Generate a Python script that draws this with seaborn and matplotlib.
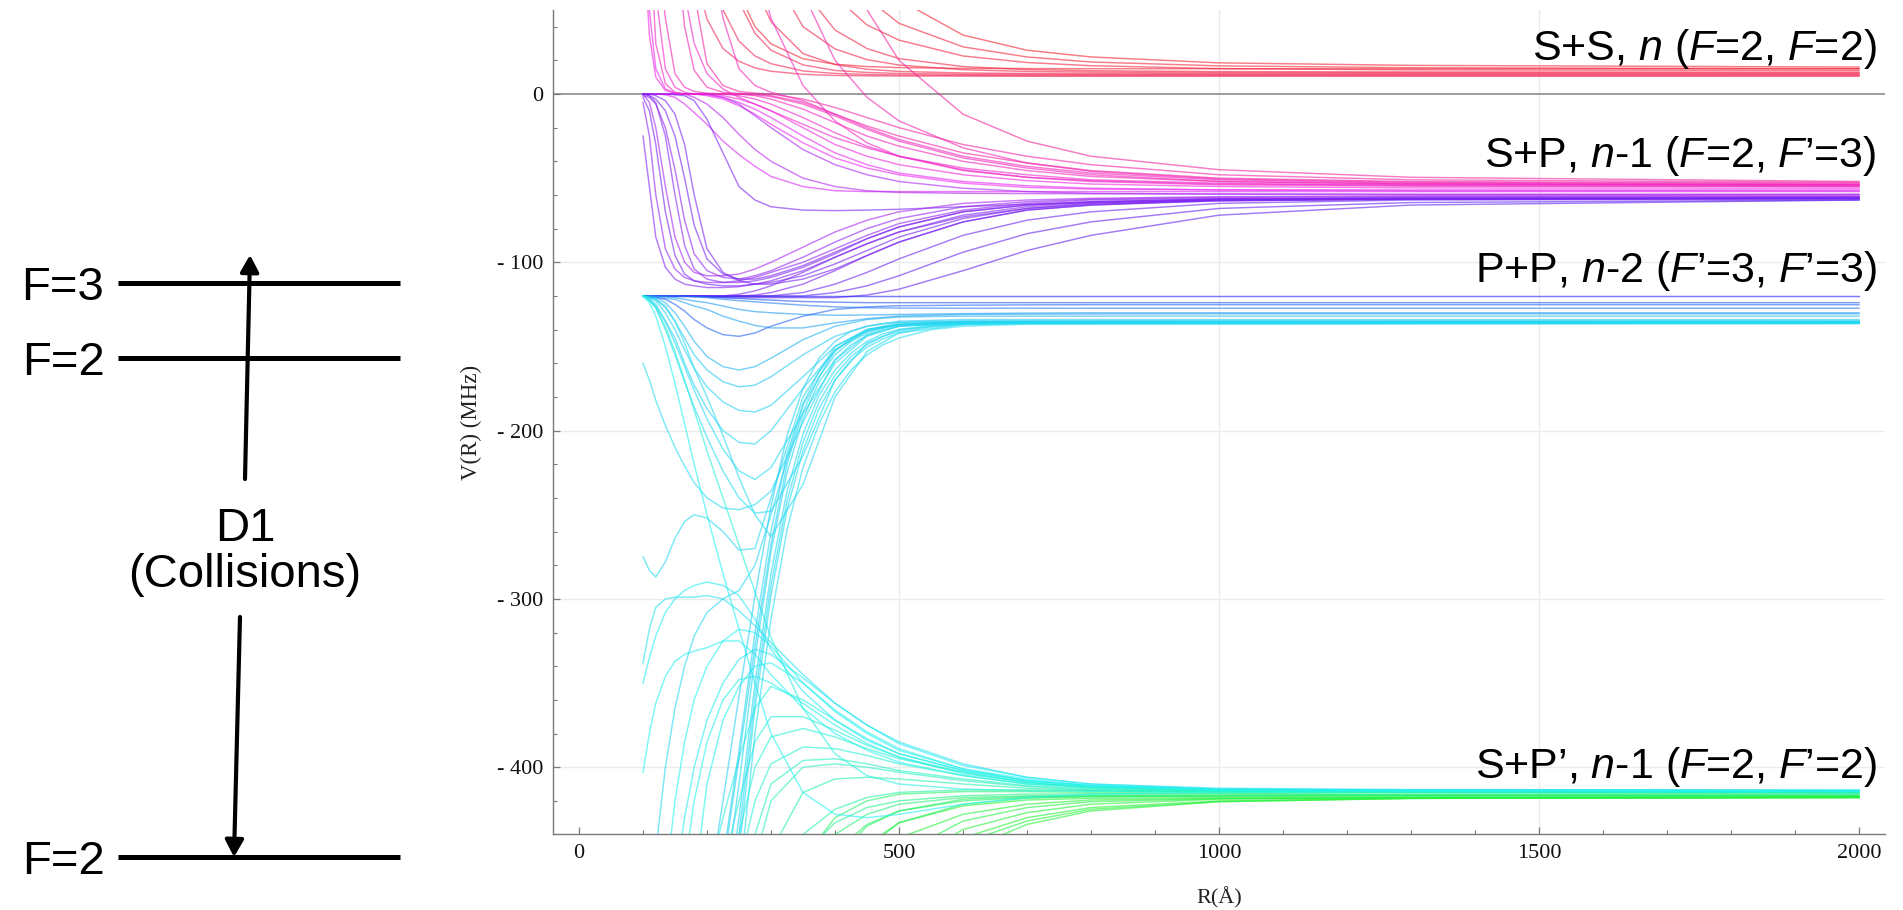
import colorsys

import matplotlib
matplotlib.use("Agg")
import matplotlib.pyplot as plt
from matplotlib.ticker import MultipleLocator
import numpy as np
import pandas as pd
import seaborn as sns

# ---------------------------------------------------------------- data
# interatomic distance grid (Angstrom) shared by most adiabatic curves
R = [100, 110, 120, 135, 150, 165, 180, 200, 225, 250, 275, 300, 350, 400,
     450, 500, 600, 700, 800, 1000, 1300, 2000]
# finer grid for the steep bundle climbing into the P+P asymptote
R_steep = [200, 225, 250, 275, 300, 325, 350, 375, 400, 425, 450, 475, 500, 550,
           600, 700, 2000]

# S+S, n asymptote (F=2, F=2): curves falling in from above
ss1 = [99] * 14 + [77, 56, 35, 26, 22, 18.5, 17, 16]
ss2 = [99] * 13 + [82, 57, 42, 28, 22, 19, 16.7, 15.6, 15]
ss3 = [99] * 12 + [88, 58, 41, 32, 22.6, 18.7, 16.8, 15.1, 14.3, 14]
ss4 = [99] * 12 + [62, 38, 27, 21, 16.3, 14.5, 13.8, 13.3, 13.1, 13]
ss5 = [99] * 11 + [73, 40, 26.8, 20.4, 17.2, 14.4, 13.4, 13, 12.7, 12.6, 12.5]
ss6 = [99] * 10 + [64, 43, 24, 17.5, 14.7, 13.4, 12.5, 12.2, 12.1, 12, 12, 12]
ss7 = [99] * 9 + [55, 36, 26, 17.3, 14, 12.8, 12.2, 11.7, 11.6, 11.5, 11.5, 11.5, 11.5]
ss8 = [99] * 7 + [89, 50, 31.4, 22.6, 18, 13.7, 12.2, 11.6, 11.3, 11.1, 11, 11, 11, 11, 11]
ss9 = [99] * 6 + [74.5, 44.5, 27, 19.4, 15.5, 13.5, 11.7, 11, 10.8, 10.7, 10.6, 10.5,
                  10.5, 10.5, 10.5, 10.5]
ss10 = [99] * 9 + [60, 40, 29.8, 20.9, 17.7, 16.3, 15.7, 15.2, 15.1, 15, 15, 15, 15]

# S+P, n-1 asymptote (F=2, F'=3): curves crossing zero from above
spt1 = [99] * 13 + [95, 50, 20, -12, -28, -37, -45, -49.5, -52]
spt2 = [99] * 12 + [60, 20, -2, -16, -32, -41, -46, -50.5, -52.5, -53.5]
spt3 = [99] * 10 + [80, 45, 5, -16, -29, -37, -45.5, -49.5, -51.5, -53.5, -54, -54.5]
spt4 = [99] * 5 + [60, 30, 12, 3, -2, -6, -10, -18, -26, -32, -37, -44, -48, -51, -53,
                   -54.5, -55]

# S+P, n-1: curves leaving the zero bundle
b1 = [0, 0, 0, -0.5, -2, -6, -11, -18, -28, -36, -43, -49, -55, -57.5, -58, -58, -58,
      -58, -58, -58, -58, -58]
b2 = [0, 0, 0, 0, -0.5, -1, -4, -15, -35, -55, -63, -67, -69, -69.3, -69, -68.5, -67,
      -65.5, -64.5, -63, -62.3, -62]
b3 = [99, 35, 10, 2, 0.5, 0, 0, 0, -1, -3, -6, -10, -20, -30, -37, -42, -48, -51.5,
      -53.5, -55, -55.8, -56]
b4 = [99, 99, 60, 15, 4, 1, 0, 0, 0, -1, -3, -6, -14, -23, -31, -37, -45, -49.5, -52,
      -54, -54.8, -55]
b5 = [99, 99, 99, 45, 12, 4, 1.5, 0.5, 0, 0, -1, -3, -9, -17, -25, -31, -40, -45.5,
      -49, -52, -53.5, -54]
b6 = [0, 0, 0, 0, 0, 0, 0, -1, -3, -7, -12, -18, -29, -38, -44, -48, -53, -55.5,
      -56.5, -57, -57, -57]
b7 = [99, 99, 99, 99, 99, 40, 14, 4, 1, 0.3, 0, -1, -5, -12, -19, -25, -35, -41,
      -45.5, -50, -52, -53]
b8 = [0, 0, 0, 0, 0, 0, 0, 0, -2, -6, -13, -20, -33, -42, -48, -52, -56, -58, -59,
      -59.5, -59.8, -60]
b9 = [0, 0, 0, 0, 0, 0, -2, -6, -14, -24, -33, -40, -50, -55, -57.5, -58.5, -59,
      -59.2, -59.3, -59.4, -59.5, -59.5]
b10 = [99, 99, 99, 99, 99, 99, 60, 18, 5, 1.5, 0.5, 0, -3, -8, -14, -20, -30, -37,
       -42, -48, -51, -52.5]
b11 = [99] * 8 + [45, 15, 5, 1, -4, -12, -20, -27, -37, -43, -47, -51, -53, -54]
b12 = [99, 50, 15, 3, 0.5, 0, 0, -0.5, -2, -5, -9, -14, -25, -35, -42, -47, -52,
       -54.5, -56, -57, -57.5, -57.5]
b13 = [99, 99, 30, 6, 1, 0, 0, 0, 0, 0, -0.5, -1.5, -6, -13, -21, -28, -38, -44, -48,
       -52, -53.5, -54]

# S+P, n-1: curves dipping towards -110 MHz before recovering
c1 = [0, -5, -20, -55, -85, -100, -106, -108, -108, -107, -104, -100, -91, -82, -75,
      -70, -65, -63, -62, -61, -60.5, -60]
c2 = [-1, -2, -6, -20, -45, -75, -95, -105, -109, -110, -108, -105, -97, -88, -80,
      -74, -67, -64, -62.5, -61.5, -61, -61]
c3 = [-5, -25, -60, -92, -104, -109, -111, -112, -112, -111, -109, -106, -100, -92,
      -84, -77, -69, -65, -63, -62, -61.5, -61]
c4 = [-25, -55, -85, -103, -110, -113, -114, -115, -115, -114.5, -113, -111, -105,
      -97, -89, -82, -72, -67, -64.5, -62.5, -62, -61.5]
c5 = [0, -1, -3, -10, -25, -50, -78, -98, -107, -110, -110, -108, -102, -94, -86,
      -79, -70, -66, -64, -62.5, -62, -62]
c6 = [0, 0, -1, -4, -12, -30, -60, -92, -106, -111, -113, -113, -110, -104, -96, -88,
      -76, -69, -66, -63, -62.5, -62]
c7 = [-2, -10, -30, -70, -96, -107, -111, -113, -114, -114, -113, -112, -108, -101,
      -93, -85, -74, -68, -65, -63, -62.3, -62]
c8 = [0, -1, -5, -25, -60, -90, -104, -110, -112, -112, -111, -109, -103, -95, -86,
      -79, -70, -66, -64, -62.5, -62, -61.5]

# S+P, n-1: curves rising out of the -120 MHz bundle
d1 = [-120] * 10 + [-119.5, -118, -113, -105, -96, -88, -76, -69, -66, -63.5, -62.5, -62]
d2 = [-120] * 12 + [-118, -113, -106, -98, -84, -75, -70, -65, -63, -62.5]
d3 = [-120] * 13 + [-118, -114, -108, -94, -83, -76, -68, -64.5, -63]
d4 = [-120] * 9 + [-119, -117, -114, -106, -97, -89, -82, -73, -68, -65.5, -63.5,
                   -62.5, -62]
d5 = [-120] * 7 + [-120.5, -121, -121, -121, -121, -121, -121, -119.5, -116, -105,
                   -93, -84, -72, -66, -63]

# P+P, n-2 asymptote (F'=3, F'=3)
e1 = [-120] * 22
e2 = [-120, -120, -120, -120, -120, -120, -120.2, -120.5, -121, -121.5, -122, -122.5,
      -123.3, -123.7, -124, -124, -124, -124, -124, -124, -124, -124]
e3 = [-120, -120, -120, -120, -120, -120.3, -120.6, -121, -122, -122.8, -123.5,
      -124.2, -125.5, -126.5, -127, -127.2, -127.3, -127.3, -127.3, -127.3, -127.3,
      -127.3]
e4 = [-120, -120, -120.3, -120.6, -121, -122, -123, -124, -126, -128, -129.3, -130,
      -131, -131.5, -131.3, -131, -130.5, -130.2, -130, -130, -130, -130]
e5 = [-120, -120.3, -120.7, -121.5, -122, -124, -126, -128, -132, -135, -137.5, -139,
      -139, -136, -133.5, -132, -131, -130.8, -130.7, -130.6, -130.6, -130.6]
e6 = [-120, -120.5, -121, -122, -125, -129, -134, -139, -143, -144, -142, -138, -132,
      -128, -126.5, -125.8, -125.5, -125.3, -125.2, -125.2, -125.2, -125.2]
e7 = [-120, -120.5, -121, -124, -130, -138, -147, -156, -162, -164, -162, -157, -146,
      -138, -134, -132.5, -132, -132, -132, -132, -132, -132]
e8 = [-120, -121, -122, -127, -135, -145, -155, -164, -171, -174, -173, -168, -155,
      -144, -138, -135, -134, -134, -134, -134, -134, -134]
e9 = [-120, -121, -123, -130, -140, -152, -163, -174, -183, -188, -189, -185, -168,
      -150, -140, -136, -135, -135, -135, -135, -135, -135]
e10 = [-120, -122, -126, -135, -145, -160, -173, -187, -200, -207, -208, -200, -175,
       -152, -141, -137, -135.5, -135.5, -135.5, -135.5, -135.5, -135.5]
e11 = [-120, -122, -125, -135, -148, -162, -176, -193, -211, -224, -229, -222, -190,
       -160, -144, -138, -136, -136, -136, -136, -136, -136]
e12 = [-120, -123, -127, -140, -155, -171, -186, -204, -224, -240, -249, -248, -215,
       -170, -148, -140, -136.5, -136, -136, -136, -136, -136]
e13 = [-120, -121, -122, -126, -135, -148, -163, -180, -203, -228, -250, -263, -232,
       -180, -153, -142, -137, -136, -136, -136, -136, -136]

# P+P, n-2: steep bundle climbing from below (values on R_steep)
f1 = [-480, -420, -358, -298, -245, -203, -175, -157, -147, -141, -138, -136.5, -135.7,
      -135.1, -134.9, -134.8, -134.8]
f2 = [-499, -455, -390, -320, -260, -214, -184, -165, -153, -145.5, -141, -138.5, -137,
      -135.8, -135.4, -135.3, -135.3]
f3 = [-499, -480, -410, -335, -272, -225, -193, -171, -158, -149, -143.5, -140, -138,
      -136.4, -135.9, -135.7, -135.7]
f4 = [-499, -499, -430, -350, -285, -236, -202, -179, -164, -154, -147, -142.5, -140,
      -137.3, -136.4, -136.1, -136]
f5 = [-499, -499, -450, -365, -298, -247, -212, -187, -170, -158, -150.5, -145.5, -142,
      -138.5, -137, -136.5, -136.3]
f6 = [-499, -499, -470, -380, -312, -259, -222, -196, -177, -164, -155, -149, -145,
      -140, -138, -136.8, -136.5]
f7 = [-499, -460, -395, -328, -268, -220, -189, -168, -155, -147, -142, -139, -137.3,
      -136, -135.6, -135.5, -135.5]
f8 = [-499, -499, -440, -358, -292, -242, -207, -183, -167, -156, -149, -144, -141,
      -137.8, -136.7, -136.2, -136.2]

# S+P', n-1 asymptote (F=2, F'=2): curves of the lower fan
g1 = [-275, -283, -287, -278, -264, -254, -250, -252, -260, -271, -270, -240, -180,
      -150, -140, -137, -136, -135.9, -135.9, -135.9, -135.9, -135.9]
g2 = [-338, -318, -305, -300, -299, -299, -299, -298, -300, -307, -316, -326, -345,
      -362, -375, -385, -398, -406, -410, -412.5, -413.3, -413.5]
g3 = [-350, -335, -322, -308, -300, -295, -292, -290, -292, -298, -312, -330, -355,
      -372, -384, -392, -402, -408, -411, -413, -413.6, -413.8]
g4 = [-403, -380, -362, -346, -337, -333, -331, -329, -325, -325, -333, -345, -365,
      -380, -390, -397, -405, -410, -411.5, -413.3, -413.8, -414]
g5 = [-160, -170, -182, -197, -210, -221, -231, -240, -246, -247, -244, -236, -195,
      -158, -143, -138, -136, -136, -136, -136, -136, -136]
g6 = [-499, -499, -450, -400, -365, -340, -322, -308, -300, -295, -280, -250, -185,
      -152, -140, -137, -136, -135.8, -135.8, -135.8, -135.8, -135.8]
g7 = [-499, -499, -499, -470, -420, -385, -360, -340, -325, -318, -320, -328, -350,
      -367, -380, -390, -401, -407, -411, -413.2, -413.8, -414]
g8 = [-499] * 5 + [-460, -420, -385, -360, -348, -346, -350, -362, -375, -386, -394,
                   -404, -409, -412, -413.6, -414, -414.2]
g9 = [-499] * 7 + [-470, -430, -395, -365, -352, -360, -372, -383, -392, -402, -408,
                   -411, -413.5, -414.1, -414.3]
g10 = [-499] * 8 + [-460, -420, -385, -370, -370, -378, -387, -394, -403, -409, -412,
                    -413.8, -414.3, -414.5]
g11 = [-499] * 9 + [-460, -420, -398, -388, -389, -393, -398, -405, -410, -412.5,
                    -414, -414.5, -414.7]
g12 = [-499] * 10 + [-455, -420, -400, -398, -400, -403, -408, -411.5, -413.5, -414.4,
                     -414.8, -415]
g13 = [-499] * 11 + [-450, -415, -407, -406, -407, -410, -412.5, -414, -414.8, -415.1,
                     -415.3]
g14 = [-499] * 6 + [-470, -410, -372, -352, -340, -338, -350, -366, -379, -389, -401,
                    -408, -411, -413.4, -413.9, -414.1]
g15 = [-499] * 9 + [-440, -400, -382, -377, -382, -389, -395, -403, -409, -412,
                    -413.9, -414.4, -414.6]
g16 = [-499] * 10 + [-440, -410, -396, -395, -398, -402, -407, -411, -413, -414.3,
                     -414.8, -415]
g17 = [-499] * 4 + [-470, -430, -400, -372, -350, -336, -330, -333, -347, -362, -375,
                    -386, -399, -406, -410, -413, -413.6, -413.8]

# S+P', n-1: green curves approaching from below
h1 = [-499] * 12 + [-455, -430, -420, -416, -414.5, -414.5, -415, -415.5, -416.5, -417]
h2 = [-499] * 13 + [-455, -435, -426, -419, -417.5, -417, -417, -417, -417]
h3 = [-499] * 13 + [-470, -446, -433, -423, -419.5, -418.5, -418, -418, -418]
h4 = [-499] * 14 + [-460, -442, -428, -422, -419.5, -418.5, -418.2, -418]
h5 = [-499] * 14 + [-490, -460, -437, -427, -422, -419, -418.2, -418]
h6 = [-499] * 15 + [-490, -450, -434, -426, -420.5, -418.5, -418]
h7 = [-499] * 11 + [-470, -440, -425, -418, -415, -413.5, -413.5, -414, -414.5, -415,
                    -415.5]
h8 = [-499] * 13 + [-480, -448, -433, -422, -418.5, -417.5, -417, -417, -417]
h9 = [-499] * 12 + [-470, -440, -428, -422, -418, -417, -416.5, -416.5, -416.5, -416.5]
h10 = [-499] * 15 + [-470, -442, -430, -424, -420, -418.5, -418]
h11 = [-499] * 12 + [-480, -450, -434, -426, -420, -418, -417.5, -417.2, -417, -417]
h12 = [-499] * 14 + [-475, -452, -432, -424, -420.5, -418.7, -418, -417.7]
h13 = [-499] * 11 + [-490, -452, -433, -424, -420, -417, -416, -415.8, -415.8, -416,
                     -416]
h14 = [-499] * 15 + [-480, -445, -432, -425, -420.5, -418.6, -417.8]

# S+P', n-1: curves descending straight out of the -120 MHz bundle
k1 = [-120, -124, -132, -150, -172, -196, -220, -250, -285, -318, -350, -380, -415,
      -428, -430, -428, -422, -418, -416, -414.8, -414.3, -414]
k2 = [-120, -122, -127, -138, -153, -170, -188, -212, -240, -268, -296, -323, -365,
      -392, -405, -410, -413, -414, -414.3, -414.5, -414.5, -414.5]

curves = dict(
    ss1=ss1, ss2=ss2, ss3=ss3, ss4=ss4, ss5=ss5, ss6=ss6, ss7=ss7, ss8=ss8, ss9=ss9,
    ss10=ss10, spt1=spt1, spt2=spt2, spt3=spt3, spt4=spt4,
    b1=b1, b2=b2, b3=b3, b4=b4, b5=b5, b6=b6, b7=b7, b8=b8, b9=b9, b10=b10,
    b11=b11, b12=b12, b13=b13,
    c1=c1, c2=c2, c3=c3, c4=c4, c5=c5, c6=c6, c7=c7, c8=c8,
    d1=d1, d2=d2, d3=d3, d4=d4, d5=d5,
    e1=e1, e2=e2, e3=e3, e4=e4, e5=e5, e6=e6, e7=e7, e8=e8, e9=e9, e10=e10, e11=e11,
    e12=e12, e13=e13,
    g1=g1, g2=g2, g3=g3, g4=g4, g5=g5, g6=g6, g7=g7, g8=g8, g9=g9, g10=g10, g11=g11,
    g12=g12, g13=g13, g14=g14, g15=g15, g16=g16, g17=g17,
    h1=h1, h2=h2, h3=h3, h4=h4, h5=h5, h6=h6, h7=h7, h8=h8, h9=h9, h10=h10,
    h11=h11, h12=h12, h13=h13, h14=h14,
    k1=k1, k2=k2,
)
steep_curves = dict(f1=f1, f2=f2, f3=f3, f4=f4, f5=f5, f6=f6, f7=f7, f8=f8)

y_ticks = [-400, -300, -200, -100, 0]
y_tick_labels = ["- 400", "- 300", "- 200", "- 100", "0"]
x_ticks = [0, 500, 1000, 1500, 2000]
x_tick_labels = ["0", "500", "1000", "1500", "2000"]

asymptote_labels = [
    (20.2, "S+S, $n$ ($F$=2, $F$=2)"),
    (-43.4, "S+P, $n$-1 ($F$=2, $F$’=3)"),
    (-111.7, "P+P, $n$-2 ($F$’=3, $F$’=3)"),
    (-406.4, "S+P’, $n$-1 ($F$=2, $F$’=2)"),
]

# hyperfine level scheme drawn to the left of the curves
level_y = [283, 358, 857]
level_text = ["F=3", "F=2", "F=2"]

# ---------------------------------------------------------------- styling
plt.rcParams["mathtext.fontset"] = "custom"
plt.rcParams["mathtext.rm"] = "Liberation Sans"
plt.rcParams["mathtext.it"] = "Liberation Sans:italic"
SANS = "Liberation Sans"
SERIF = "Liberation Serif"

# colour of each curve follows its large-R asymptote (red -> magenta -> blue -> cyan -> green)
end_v = [-418, -417, -416, -415, -414.5, -414, -413.5, -136.5, -134, -130, -125, -120,
         -63, -61, -59, -57, -55, -52, 10, 16]
end_hue = [125, 138, 150, 165, 174, 180, 185, 186, 192, 205, 222, 240, 258, 272, 285,
           300, 312, 325, 345, 356]


def curve_color(v_end):
    h = np.interp(v_end, end_v, end_hue) / 360.0
    return colorsys.hsv_to_rgb(h % 1.0, 0.85, 0.95)


rows = []
palette = {}
for grid, group in [(R, curves), (R_steep, steep_curves)]:
    for name, vals in group.items():
        assert len(vals) == len(grid), name
        palette[name] = curve_color(vals[-1])
        rows.extend({"R": r, "V": v, "curve": name} for r, v in zip(grid, vals))
df = pd.DataFrame(rows)

fig = plt.figure(figsize=(19.03, 9.10), dpi=100)

# ---------------------------------------------------------------- level scheme
diag = fig.add_axes([0, 0, 1, 1])
diag.set_xlim(0, 1903)
diag.set_ylim(910, 0)
diag.axis("off")
diag.hlines(level_y, 118, 400, color="black", lw=3.6)
for y, t in zip(level_y, level_text):
    diag.text(63, y + 17, t, ha="center", va="baseline", fontsize=34,
              family=SANS, color="black")
arrow = dict(arrowstyle="-|>,head_length=1.0,head_width=0.55", lw=3.0,
             color="black", shrinkA=0, shrinkB=0)
diag.annotate("", xy=(250, 255), xytext=(245, 479), arrowprops=arrow)
diag.annotate("", xy=(234, 857), xytext=(240, 617), arrowprops=arrow)
diag.text(245, 541, "D1", ha="center", va="baseline", fontsize=34, family=SANS)
diag.text(245, 587, "(Collisions)", ha="center", va="baseline", fontsize=34,
          family=SANS)

# ---------------------------------------------------------------- potential curves
ax = fig.add_axes([553 / 1903, 76 / 910, 1332 / 1903, 824 / 910])
ax.set_facecolor("white")
for gx in [500, 1000, 1500]:
    ax.axvline(gx, color="#ebebeb", lw=1.0, zorder=0)
for gy in [-100, -200, -300, -400]:
    ax.axhline(gy, color="#ebebeb", lw=1.0, zorder=0)
ax.axhline(0, color="#9c9c9c", lw=1.4, zorder=1)

sns.lineplot(data=df, x="R", y="V", hue="curve", palette=palette,
             hue_order=list(palette.keys()), estimator=None, sort=False,
             legend=False, lw=1.05, alpha=0.6, ax=ax, zorder=2)

ax.set_xlim(-40.6, 2040.6)
ax.set_ylim(-439.7, 49.9)
for side in ["top", "right"]:
    ax.spines[side].set_visible(False)
for side in ["left", "bottom"]:
    ax.spines[side].set_color("#7a7a7a")
    ax.spines[side].set_linewidth(1.0)

ax.set_xticks(x_ticks)
ax.set_xticklabels(x_tick_labels)
ax.set_yticks(y_ticks)
ax.set_yticklabels(y_tick_labels)
ax.xaxis.set_minor_locator(MultipleLocator(100))
ax.yaxis.set_minor_locator(MultipleLocator(20))
ax.tick_params(which="major", direction="in", length=5, width=0.9, color="#7a7a7a",
               labelsize=16, labelcolor="#111111", pad=7)
ax.tick_params(which="minor", direction="in", length=3, width=0.8, color="#7a7a7a")
for lab in ax.get_xticklabels() + ax.get_yticklabels():
    lab.set_family(SERIF)

ax.set_xlabel("R(Å)", family=SERIF, fontsize=16, color="#222222")
ax.set_ylabel("V(R) (MHz)", family=SERIF, fontsize=16.5, color="#222222")
ax.xaxis.set_label_coords(0.5, -0.078)
ax.xaxis.label.set_verticalalignment("center")
ax.yaxis.set_label_coords(-0.061, 0.5)
ax.yaxis.label.set_verticalalignment("center")

for y, txt in asymptote_labels:
    ax.text(2028, y, txt, ha="right", va="baseline", fontsize=31, family=SANS,
            color="black", zorder=5)

fig.savefig("out.png", dpi=100, facecolor="white")
